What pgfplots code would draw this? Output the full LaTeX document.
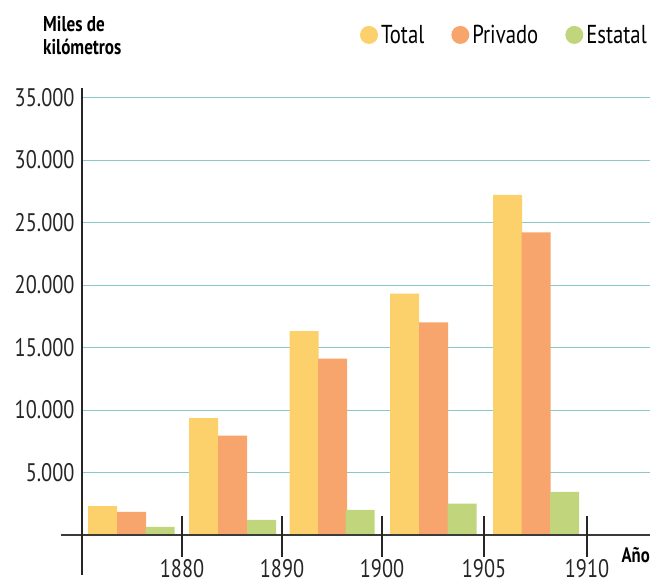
\documentclass[border=0pt]{standalone}
\usepackage{fontspec}
\setmainfont{PT Sans}[FakeStretch=0.8]
\usepackage{pgfplots}
\pgfplotsset{compat=1.18}

\definecolor{ctotal}{HTML}{FCD06B}
\definecolor{cpriv}{HTML}{F8A46D}
\definecolor{cest}{HTML}{C0D57C}
\definecolor{cgrid}{HTML}{8CC7C8}
\definecolor{caxis}{HTML}{3A3A36}

\pgfplotsset{
  dotlegend/.style={legend image code/.code={\fill[##1] (9bp,0bp) circle (9bp);}},
}

\begin{document}
\begin{tikzpicture}
\path[use as bounding box] (0,0) rectangle (665bp,585bp);

\begin{axis}[
  at={(82bp,50bp)}, anchor=south west,
  scale only axis, width=568bp, height=437.5bp,
  xmin=82, xmax=650, ymin=0, ymax=35000,
  clip=false,
  axis line style={draw=none},
  tick style={draw=none},
  xtick={182,282,382,484,587},
  xticklabels={1880,1890,1900,1905,1910},
  ytick={5000,10000,15000,20000,25000,30000,35000},
  scaled y ticks=false,
  ymajorgrids,
  grid style={cgrid, line width=0.9bp},
  /pgf/number format/.cd, fixed, 1000 sep={.}, assume math mode=true,
  /pgfplots/.cd,
  ticklabel style={font=\fontsize{25.5}{28}\selectfont, text=black!85},
  xticklabel style={yshift=-21bp},
  yticklabel style={xshift=-4bp},
  legend style={at={(1,1.143)}, anchor=east, draw=none, fill=none,
    inner sep=0pt, font=\fontsize{26}{28}\selectfont,
    /tikz/every even column/.append style={column sep=24bp},
    nodes={inner sep=3bp}},
  legend columns=3,
]

% Total
\addplot[ybar, bar width=29, bar shift=0pt, fill=ctotal, draw=none, dotlegend] coordinates {
  (102.5,2300) (203.5,9350) (304,16300) (404.5,19300) (507.5,27200)
};
% Privado
\addplot[ybar, bar width=29, bar shift=0pt, fill=cpriv, draw=none, dotlegend] coordinates {
  (131.5,1850) (232.5,7950) (332.5,14100) (433.5,17000) (536,24200)
};
% Estatal
\addplot[ybar, bar width=29, bar shift=0pt, fill=cest, draw=none, dotlegend] coordinates {
  (160,650) (261.5,1200) (360,2000) (462,2500) (564.5,3450)
};
\legend{Total,Privado,Estatal}

% axis lines and year ticks
\draw[caxis, line width=2.8bp] (axis cs:61,0) -- (axis cs:650,0);
\draw[black!85, line width=2.7bp] (axis cs:82,-3200) -- (axis cs:82,35760);
\pgfplotsinvokeforeach{182,282,382,484,587}{
  \draw[black!85, line width=2.4bp] (axis cs:#1,-1760) -- (axis cs:#1,1520);
}
\end{axis}

\node[anchor=base west, inner sep=0pt, font=\bfseries\fontsize{21.5}{23}\selectfont] at (43bp,553bp) {Miles de};
\node[anchor=base west, inner sep=0pt, font=\bfseries\fontsize{21.5}{23}\selectfont] at (43bp,530bp) {kilómetros};
\node[anchor=base east, inner sep=0pt, font=\bfseries\fontsize{21}{23}\selectfont] at (650bp,23bp) {Año};
\end{tikzpicture}
\end{document}
